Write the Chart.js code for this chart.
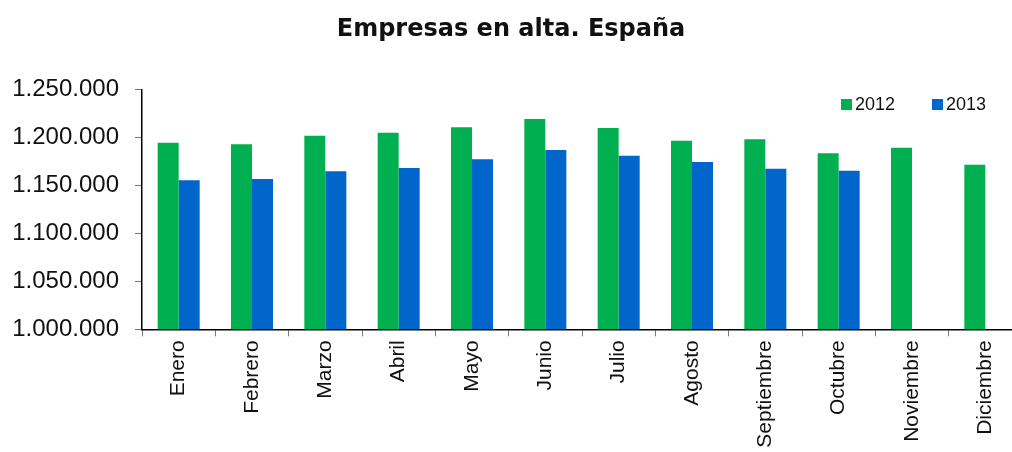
<!DOCTYPE html>
<html>
<head>
<meta charset="utf-8">
<script src="https://cdn.jsdelivr.net/npm/chart.js@4.4.0/dist/chart.umd.min.js"></script>
<style>
    html, body { margin: 0; padding: 0; background: #fff; overflow: hidden; }
    #wrap { position: relative; width: 1022px; height: 452px; }
    .legend { position: absolute; top: 94px; left: 841px; white-space: nowrap; font: 18px "Liberation Sans", Arial, sans-serif; color: #111; }
    .legend span.item { display: inline-block; margin-right: 37px; }
    .legend i { display: inline-block; width: 11px; height: 11px; margin-right: 3px; vertical-align: 0px; }
</style>
</head>
<body>
<div id="wrap">
    <canvas id="altaChart" width="1022" height="452"></canvas>
    <div class="legend" id="legend"></div>
</div>
<script>
// Empresas en alta. España

const months = ['Enero', 'Febrero', 'Marzo', 'Abril', 'Mayo', 'Junio', 'Julio',
    'Agosto', 'Septiembre', 'Octubre', 'Noviembre', 'Diciembre'];
const years = ['2012', '2013'];
const alta2012 = [1194400, 1192700, 1201700, 1204800, 1210400, 1219100, 1209700,
    1196500, 1197900, 1183300, 1189200, 1171500];
const alta2013 = [1155200, 1156600, 1164600, 1168000, 1177100, 1186800, 1180800,
    1174300, 1167300, 1165200, null, null];
const yTicks = [1000000, 1050000, 1100000, 1150000, 1200000, 1250000];

const colors = ['#00B050', '#0066CC'];

const fmt = v => String(v).replace(/\B(?=(\d{3})+(?!\d))/g, '.');

// 1. Chart
const ctx = document.getElementById('altaChart');
new Chart(ctx, {
    type: 'bar',
    data: {
        labels: months,
        datasets: [
            { label: years[0], data: alta2012, backgroundColor: colors[0] },
            { label: years[1], data: alta2013, backgroundColor: colors[1] }
        ]
    },
    options: {
        responsive: false,
        animation: false,
        layout: { padding: 0 },
        datasets: {
            bar: { barPercentage: 1, categoryPercentage: 0.573 }
        },
        plugins: {
            legend: { display: false },
            tooltip: { enabled: false },
            title: {
                display: true,
                text: 'Empresas en alta. España',
                color: '#111',
                font: { family: 'DejaVu Sans', size: 24, weight: 'bold' },
                padding: { top: 15, bottom: 45.5 }
            }
        },
        scales: {
            x: {
                border: { color: '#000', width: 1.5 },
                grid: { drawOnChartArea: false, drawTicks: true, tickLength: 7, color: '#777', offset: true },
                ticks: {
                    minRotation: 90, maxRotation: 90, padding: 4, color: '#111',
                    font: { family: 'Liberation Sans', size: 21 }
                },
                afterFit: s => { s.height = 122.7; }
            },
            y: {
                min: yTicks[0],
                max: yTicks[yTicks.length - 1],
                border: { color: '#000', width: 1.5 },
                grid: { drawOnChartArea: false, drawTicks: true, tickLength: 7, color: '#777' },
                afterBuildTicks: s => { s.ticks = yTicks.map(v => ({ value: v })); },
                ticks: {
                    padding: 16, color: '#111',
                    font: { family: 'Liberation Sans', size: 24 },
                    callback: v => fmt(v)
                },
                afterFit: s => { s.width = 142; }
            }
        }
    }
});

// 2. Legend
const legend = document.getElementById('legend');
years.forEach((y, i) => {
    const item = document.createElement('span');
    item.className = 'item';
    item.innerHTML = `<i style="background:${colors[i]}"></i>${y}`;
    legend.appendChild(item);
});
</script>
</body>
</html>
